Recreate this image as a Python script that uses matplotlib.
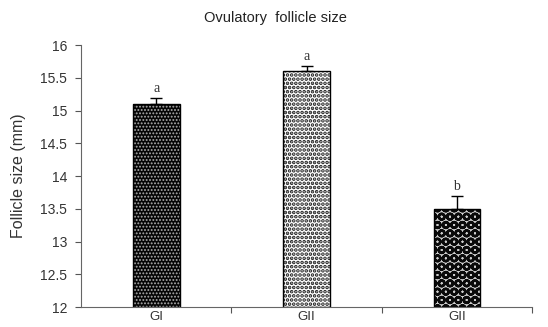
import numpy as np
import matplotlib.pyplot as plt

groups = ['GI', 'GII', 'GII']
means = [15.1, 15.6, 13.5]
errors = [0.1, 0.08, 0.2]
letters = ['a', 'a', 'b']

plt.rcParams['font.family'] = 'Liberation Sans'

fig = plt.figure(figsize=(5.48, 3.27), dpi=100)
ax = fig.add_axes([0.148, 0.061, 0.823, 0.801])

x = np.arange(len(groups))
w = 0.31
faces = ['#050505', 'white', '#cfcfcf']
hatch_cols = ['#b0b0b0', '#1a1a1a', '#0a0a0a']
hatch_lw = [0.9, 1.8, 1.8]
hatches = ['.....', '....', 'OO']

for i in range(len(groups)):
    plt.rcParams['hatch.color'] = hatch_cols[i]
    plt.rcParams['hatch.linewidth'] = hatch_lw[i]
    ax.bar(x[i], means[i] - 12, w, bottom=12, color=faces[i], hatch=hatches[i],
           edgecolor=hatch_cols[i], linewidth=0)
    ax.bar(x[i], means[i] - 12, w, bottom=12, fill=False, edgecolor='black', linewidth=1)

ax.errorbar(x, means, yerr=[np.zeros(3), errors], fmt='none', ecolor='black',
            elinewidth=1, capsize=4, capthick=1)

for i in range(len(groups)):
    ax.text(x[i], means[i] + errors[i] + 0.04, letters[i], ha='center', va='bottom',
            family='Liberation Serif', fontsize=10, color='#333333')

ax.set_xlim(-0.5, 2.5)
ax.set_ylim(12, 16)
ax.set_yticks(np.arange(12, 16.01, 0.5))
ax.set_yticklabels(['12', '12.5', '13', '13.5', '14', '14.5', '15', '15.5', '16'])
ax.set_xticks([0.5, 1.5, 2.5])
ax.set_xticklabels([])
ax.set_xticks(x, minor=True)
ax.set_xticklabels(groups, minor=True)
ax.tick_params(axis='x', which='minor', length=0, pad=3, labelsize=9.5, colors='#333333')
ax.tick_params(axis='x', which='major', length=4, direction='out', color='#555555')
ax.tick_params(axis='y', length=4, direction='out', color='#555555', labelsize=10,
               labelcolor='#333333', pad=6)

for s in ['top', 'right']:
    ax.spines[s].set_visible(False)
for s in ['left', 'bottom']:
    ax.spines[s].set_color('#666666')

ax.set_ylabel('Follicle size (mm)', fontsize=11.5, color='#333333', labelpad=10)
fig.text(0.503, 0.945, 'Ovulatory  follicle size', fontsize=10.5, color='#222222',
         ha='center', va='center')

fig.savefig('out.png', dpi=100)
